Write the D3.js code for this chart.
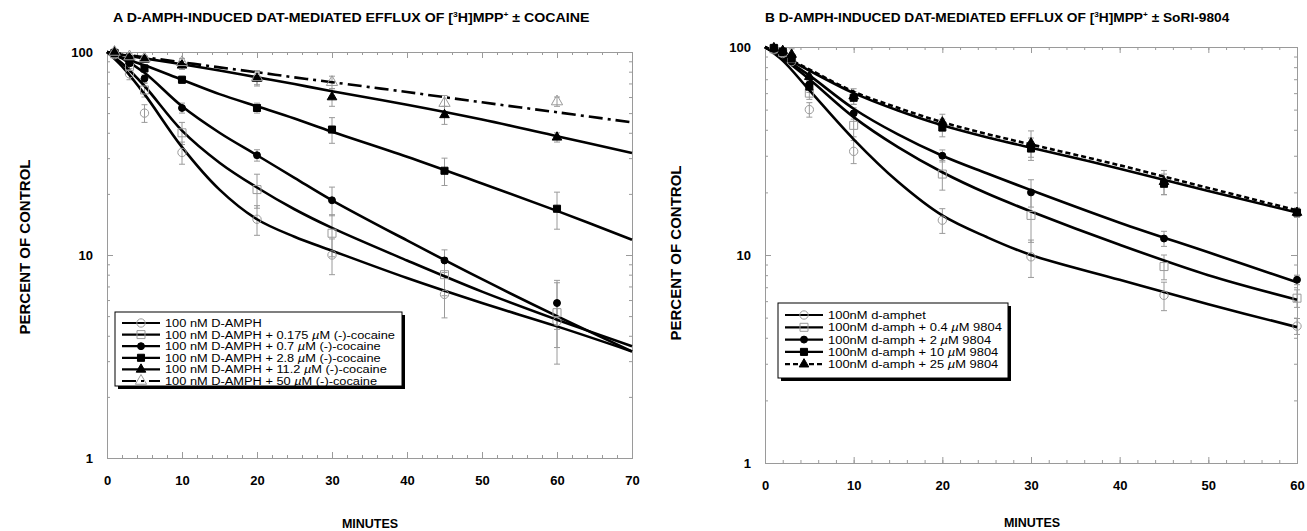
<!DOCTYPE html>
<html>
<head>
<meta charset="utf-8">
<script src="https://cdn.jsdelivr.net/npm/d3@7"></script>
<style>
body { margin: 0; background: #fff; }
svg { display: block; }
text { font-family: "Liberation Sans", Arial, sans-serif; }
</style>
</head>
<body>
<svg></svg>
<script>
// ---- panel A data (cocaine) ----
var timesA = [1, 3, 5, 10, 20, 30, 45, 60];
var ptsA0 = [97, 78, 50, 32, 15, 10, 6.4, 4.7];
var ptsA1 = [98, 85, 65, 40, 21, 12.8, 8.0, 5.2];
var ptsA2 = [99, 88, 74, 53, 31, 18.6, 9.4, 5.8];
var ptsA3 = [99, 91, 83, 73, 53, 41.5, 26, 16.9];
var ptsA4 = [100, 93, 92, 86, 74, 60, 49, 38];
var ptsA5 = [100, 95, 93, 89, 75, 71, 56, 57];
var errA0 = [2, 5, 5, 4, 2.5, 2, 1.5, 1.2];
var errA1 = [2, 4, 5, 5, 4, 3, 1.7, 2.3];
var errA2 = [2, 3, 3, 3, 2, 3, 1.2, 1.5];
var errA3 = [2, 3, 3, 3, 3, 6, 4, 3.5];
var errA4 = [2, 3, 3, 4, 6, 6, 5, 2];
var errA5 = [2, 3, 3, 4, 6, 5, 5, 3];
var fitTimesA = [0, 2, 5, 10, 15, 20, 25, 30, 40, 50, 60, 70];
var fitA0 = [100, 85, 62, 34, 21, 15, 12.3, 10.5, 7.7, 5.8, 4.45, 3.35];
var fitA1 = [100, 88, 68, 41, 28.5, 21.5, 16.8, 13.6, 9.4, 6.6, 4.8, 3.55];
var fitA2 = [100, 93, 79, 54, 40, 31, 24, 18.6, 11.8, 7.6, 5.0, 3.35];
var fitA3 = [100, 94, 86, 73, 62, 54, 47, 40.5, 30.5, 22.5, 16.5, 11.9];
var fitA4 = [100, 97, 93, 87, 81, 75, 69.5, 64, 55, 46.5, 38.5, 31.8];
var fitA5 = [100, 97.7, 94.3, 89, 84, 79.5, 75, 71, 63.5, 56.5, 50.5, 45];
var labelsA = ["100 nM  D-AMPH",
               "100 nM D-AMPH + 0.175 µM (-)-cocaine",
               "100 nM D-AMPH + 0.7 µM (-)-cocaine",
               "100 nM D-AMPH + 2.8 µM (-)-cocaine",
               "100 nM D-AMPH + 11.2 µM (-)-cocaine",
               "100 nM D-AMPH + 50 µM (-)-cocaine"];
var xTicksA = [0, 10, 20, 30, 40, 50, 60, 70];

// ---- panel B data (SoRI-9804) ----
var timesB = [1, 2, 3, 5, 10, 20, 30, 45, 60];
var ptsB0 = [97, 93, 85, 50, 31.5, 14.7, 9.8, 6.4, 4.55];
var ptsB1 = [98, 94, 88, 60, 42, 24.5, 15.5, 8.8, 6.2];
var ptsB2 = [98, 95, 89, 66, 48, 30, 20, 12, 7.6];
var ptsB3 = [99, 95, 88, 64.5, 57, 41, 32.5, 22, 16];
var ptsB4 = [99, 96, 92, 72, 58, 43.5, 34.5, 22.5, 16];
var errB0 = [2, 2, 3, 4, 4, 2, 2, 1, 0.4];
var errB1 = [2, 2, 3, 4, 5, 4, 4, 1.2, 0.6];
var errB2 = [2, 2, 3, 3, 3, 2, 3, 1, 0.4];
var errB3 = [2, 2, 5, 4, 4, 4, 4, 2.5, 0.8];
var errB4 = [2, 2, 6, 5, 5, 4, 5, 3, 0.8];
var fitTimesB = [0, 2, 5, 10, 15, 20, 25, 30, 40, 50, 60];
var fitB0 = [100, 86, 62, 36, 22.5, 15.5, 12.2, 10, 7.6, 5.8, 4.5];
var fitB1 = [100, 88, 70, 46, 33, 25, 19.8, 16.2, 11.2, 8, 6.1];
var fitB2 = [100, 89, 73, 50.5, 38, 30, 24.7, 20.5, 14.3, 10.3, 7.4];
var fitB3 = [100, 90, 77, 60, 49.5, 42, 36.8, 32.8, 26, 20.3, 16];
var fitB4 = [100, 90.5, 78, 61, 51, 43.5, 38.2, 34, 27, 21, 16.4];
var labelsB = ["100nM d-amphet",
               "100nM d-amph + 0.4 µM 9804",
               "100nM d-amph + 2 µM 9804",
               "100nM d-amph + 10 µM 9804",
               "100nM d-amph + 25 µM 9804"];
var xTicksB = [0, 10, 20, 30, 40, 50, 60];

var yTicks = [1, 10, 100];
var yMinor = [2, 3, 4, 5, 6, 7, 8, 9, 20, 30, 40, 50, 60, 70, 80, 90];

var svg = d3.select("svg").attr("width", 1307).attr("height", 531);

var grey = "#9a9a9a";

var panelA = {
    left: 107, right: 632, top: 52, bottom: 458, xMax: 70, xTicks: xTicksA,
    times: timesA, fitTimes: fitTimesA,
    title: ["A  D-AMPH-INDUCED DAT-MEDIATED EFFLUX OF [", "H]MPP", " ± COCAINE"],
    titleX: 113, titleY: 22, titleW: 477,
    ylabX: 30, ylabY: 247, xlabX: 370, xlabY: 528,
    legend: {x: 115, y: 312, w: 287, h: 74, row0: 323, rowH: 11.6, lineX0: 122, lineX1: 160, textX: 165, textW: 230},
    series: [
        {pts: ptsA0, err: errA0, fit: fitA0, label: labelsA[0], marker: "circleOpen"},
        {pts: ptsA1, err: errA1, fit: fitA1, label: labelsA[1], marker: "squareOpen"},
        {pts: ptsA2, err: errA2, fit: fitA2, label: labelsA[2], marker: "circle"},
        {pts: ptsA3, err: errA3, fit: fitA3, label: labelsA[3], marker: "square"},
        {pts: ptsA4, err: errA4, fit: fitA4, label: labelsA[4], marker: "triangle"},
        {pts: ptsA5, err: errA5, fit: fitA5, label: labelsA[5], marker: "triangleOpen", dash: "14,5,3,5"}
    ]
};

var panelB = {
    left: 765, right: 1297, top: 47, bottom: 463, xMax: 60, xTicks: xTicksB,
    times: timesB, fitTimes: fitTimesB,
    title: ["B  D-AMPH-INDUCED DAT-MEDIATED EFFLUX OF [", "H]MPP", " ± SoRI-9804"],
    titleX: 765, titleY: 22, titleW: 465,
    ylabX: 681, ylabY: 253, xlabX: 1032, xlabY: 527,
    legend: {x: 778, y: 303, w: 230, h: 75, row0: 315, rowH: 12.3, lineX0: 785, lineX1: 823, textX: 828, textW: 174},
    series: [
        {pts: ptsB0, err: errB0, fit: fitB0, label: labelsB[0], marker: "circleOpen"},
        {pts: ptsB1, err: errB1, fit: fitB1, label: labelsB[1], marker: "squareOpen"},
        {pts: ptsB2, err: errB2, fit: fitB2, label: labelsB[2], marker: "circle"},
        {pts: ptsB3, err: errB3, fit: fitB3, label: labelsB[3], marker: "square"},
        {pts: ptsB4, err: errB4, fit: fitB4, label: labelsB[4], marker: "triangle", dash: "5,3"}
    ]
};

var markerShape = {
    circleOpen: {type: d3.symbolCircle, size: 55, fill: "none", stroke: grey},
    squareOpen: {type: d3.symbolSquare, size: 64, fill: "none", stroke: grey},
    circle: {type: d3.symbolCircle, size: 38, fill: "#000", stroke: "#000"},
    square: {type: d3.symbolSquare, size: 50, fill: "#000", stroke: "#000"},
    triangle: {type: d3.symbolTriangle, size: 40, fill: "#000", stroke: "#000"},
    triangleOpen: {type: d3.symbolTriangle, size: 55, fill: "none", stroke: grey}
};

var drawMarker = function(g, kind, px, py)
{
    var m = markerShape[kind];
    g.append("path")
    .attr("d", d3.symbol().type(m.type).size(m.size)())
    .attr("transform", "translate(" + px + "," + py + ")")
    .attr("fill", m.fill)
    .attr("stroke", m.stroke)
    .attr("stroke-width", 1);
}

var styleAxis = function(sel)
{
    sel.select(".domain").attr("stroke", grey).attr("stroke-width", 1);
    sel.selectAll(".tick line").attr("stroke", grey).attr("stroke-width", 1);
    sel.selectAll("text")
    .attr("fill", "#000")
    .style("font-size", "13px")
    .style("font-weight", "bold");
}

var drawPanel = function(p)
{
    var x = d3.scaleLinear().domain([0, p.xMax]).range([p.left, p.right]);
    var y = d3.scaleLog().domain([1, 100]).range([p.bottom, p.top]);
    var g = svg.append("g");
    var xMinor = d3.range(0, p.xMax + 1, 2);

    // minor ticks on all four sides
    g.append("g").attr("transform", "translate(0," + p.bottom + ")")
    .call(d3.axisBottom(x).tickValues(xMinor).tickSize(-3).tickFormat("")).call(styleAxis);
    g.append("g").attr("transform", "translate(0," + p.top + ")")
    .call(d3.axisTop(x).tickValues(xMinor).tickSize(-3).tickFormat("")).call(styleAxis);
    g.append("g").attr("transform", "translate(" + p.left + ",0)")
    .call(d3.axisLeft(y).tickValues(yMinor).tickSize(-3).tickFormat("")).call(styleAxis);
    g.append("g").attr("transform", "translate(" + p.right + ",0)")
    .call(d3.axisRight(y).tickValues(yMinor).tickSize(-3).tickFormat("")).call(styleAxis);

    // major ticks and labels
    g.append("g").attr("transform", "translate(0," + p.bottom + ")")
    .call(d3.axisBottom(x).tickValues(p.xTicks).tickSize(-6).tickPadding(18).tickFormat(d3.format("d"))).call(styleAxis);
    g.append("g").attr("transform", "translate(0," + p.top + ")")
    .call(d3.axisTop(x).tickValues(p.xTicks).tickSize(-6).tickFormat("")).call(styleAxis);
    g.append("g").attr("transform", "translate(" + p.left + ",0)")
    .call(d3.axisLeft(y).tickValues(yTicks).tickSize(-6).tickPadding(14).tickFormat(d3.format("d"))).call(styleAxis);
    g.append("g").attr("transform", "translate(" + p.right + ",0)")
    .call(d3.axisRight(y).tickValues(yTicks).tickSize(-6).tickFormat("")).call(styleAxis);

    // error bars
    p.series.forEach(function(s){
        p.times.forEach(function(t, i){
            var v = s.pts[i];
            if (v == null) return;
            var e = s.err[i];
            var y0 = y(Math.min(100, v + e)), y1 = y(v - e);
            var bars = g.append("g").attr("stroke", grey).attr("stroke-width", 1);
            bars.append("line").attr("x1", x(t)).attr("x2", x(t)).attr("y1", y0).attr("y2", y1);
            bars.append("line").attr("x1", x(t) - 3).attr("x2", x(t) + 3).attr("y1", y0).attr("y2", y0);
            bars.append("line").attr("x1", x(t) - 3).attr("x2", x(t) + 3).attr("y1", y1).attr("y2", y1);
        });
    });

    // fitted curves
    var lineGenerator = d3.line()
    .x(function(d){ return x(d[0]); })
    .y(function(d){ return y(d[1]); })
    .curve(d3.curveCatmullRom.alpha(0.5));

    p.series.forEach(function(s){
        g.append("path")
        .datum(p.fitTimes.map(function(t, i){ return [t, s.fit[i]]; }))
        .attr("d", lineGenerator)
        .attr("fill", "none")
        .attr("stroke", "#000")
        .attr("stroke-width", 2.6)
        .attr("stroke-dasharray", s.dash || null);
    });

    // data points
    p.series.forEach(function(s){
        p.times.forEach(function(t, i){
            if (s.pts[i] == null) return;
            drawMarker(g, s.marker, x(t), y(s.pts[i]));
        });
    });

    // title with superscripts, stretched to the reference width
    var title = g.append("text")
    .attr("x", 0).attr("y", 0)
    .style("font-size", "12.5px").style("font-weight", "bold");
    title.append("tspan").text(p.title[0]);
    title.append("tspan").attr("dy", -5).style("font-size", "7.5px").text("3");
    title.append("tspan").attr("dy", 5).text(p.title[1]);
    title.append("tspan").attr("dy", -5).style("font-size", "7.5px").text("+");
    title.append("tspan").attr("dy", 5).text(p.title[2]);
    var tw = title.node().getComputedTextLength();
    title.attr("transform", "translate(" + p.titleX + "," + p.titleY + ") scale(" + (p.titleW / tw) + ",1)");

    // axis titles
    g.append("text")
    .attr("transform", "translate(" + p.ylabX + "," + p.ylabY + ") rotate(-90)")
    .attr("text-anchor", "middle")
    .style("font-size", "15px").style("font-weight", "bold")
    .text("PERCENT OF CONTROL");

    g.append("text")
    .attr("x", p.xlabX).attr("y", p.xlabY)
    .attr("text-anchor", "middle")
    .style("font-size", "12.5px").style("font-weight", "bold")
    .text("MINUTES");

    // legend
    var L = p.legend;
    var leg = g.append("g");
    leg.append("rect").attr("x", L.x + 3).attr("y", L.y + 3).attr("width", L.w).attr("height", L.h).attr("fill", "#000");
    leg.append("rect").attr("x", L.x).attr("y", L.y).attr("width", L.w).attr("height", L.h)
    .attr("fill", "#fff").attr("stroke", "#000").attr("stroke-width", 1);

    var texts = [];
    p.series.forEach(function(s, i){
        var ry = L.row0 + i * L.rowH;
        leg.append("line")
        .attr("x1", L.lineX0).attr("x2", L.lineX1).attr("y1", ry).attr("y2", ry)
        .attr("stroke", "#000").attr("stroke-width", 2.2)
        .attr("stroke-dasharray", s.dash || null);
        drawMarker(leg, s.marker, (L.lineX0 + L.lineX1) / 2, ry);
        var parts = s.label.split("µ");
        var txt = leg.append("text")
        .attr("x", 0).attr("y", 0)
        .style("font-size", "11px");
        txt.append("tspan").text(parts[0]);
        if (parts.length > 1) {
            txt.append("tspan").style("font-style", "italic").text("µ");
            txt.append("tspan").text(parts[1]);
        }
        texts.push({sel: txt, y: ry + 4});
    });
    // stretch legend text so the second label matches the reference width
    var sx = L.textW / texts[1].sel.node().getComputedTextLength();
    texts.forEach(function(t){
        t.sel.attr("transform", "translate(" + L.textX + "," + t.y + ") scale(" + sx + ",1)");
    });
}

drawPanel(panelA);
drawPanel(panelB);
</script>
</body>
</html>
